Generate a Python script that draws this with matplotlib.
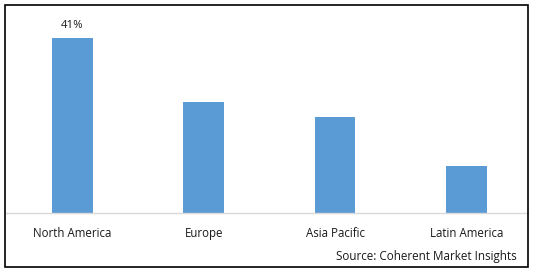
import matplotlib
matplotlib.use("Agg")
import matplotlib.pyplot as plt
from matplotlib.patches import Rectangle

categories = ["North America", "Europe", "Asia Pacific", "Latin America"]
values = [41, 26.0, 22.5, 11.0]
bar_labels = ["41%", "", "", ""]
source = "Source: Coherent Market Insights"

W, H = 538, 272
fig = plt.figure(figsize=(W / 100, H / 100), dpi=100)
plt.rcParams['font.family'] = ['Open Sans', 'DejaVu Sans']

def fx(px):
    return px / W

def fy(py):
    return 1 - py / H

ax_left, ax_right, ax_top, ax_bottom = 6, 528, 5, 212.7
ax = fig.add_axes([fx(ax_left), fy(ax_bottom), fx(ax_right - ax_left), (ax_bottom - ax_top) / H])

x = list(range(len(categories)))
bars = ax.bar(x, values, width=0.31, color="#5B9BD5", zorder=2)
spacing = 131.27
ax.set_xlim((ax_left - 72.5) / spacing, (ax_right - 72.5) / spacing)
ax.set_ylim(0, (ax_bottom - ax_top) / 4.26)

for b, lab in zip(bars, bar_labels):
    if lab:
        ax.text(b.get_x() + b.get_width() / 2, b.get_height() + 1.7, lab,
                ha="center", va="bottom", fontsize=8.2, color="#1a1a1a")

for s in ["top", "right", "left"]:
    ax.spines[s].set_visible(False)
ax.spines["bottom"].set_color("#D9D9D9")
ax.spines["bottom"].set_linewidth(1.0)
ax.set_yticks([])
ax.set_xticks(x)
ax.set_xticklabels(categories, fontsize=8.3, color="#1a1a1a")
ax.tick_params(axis="x", length=0, pad=10)
ax.patch.set_alpha(0)

fig.text(fx(517), fy(256.7), source, ha="right", va="center", fontsize=8.4, color="#1a1a1a")

border = Rectangle((fx(5), fy(267)), fx(523), 262 / H, transform=fig.transFigure,
                   fill=False, edgecolor="black", linewidth=1.2)
fig.patches.append(border)

fig.savefig("out.png", dpi=100)
